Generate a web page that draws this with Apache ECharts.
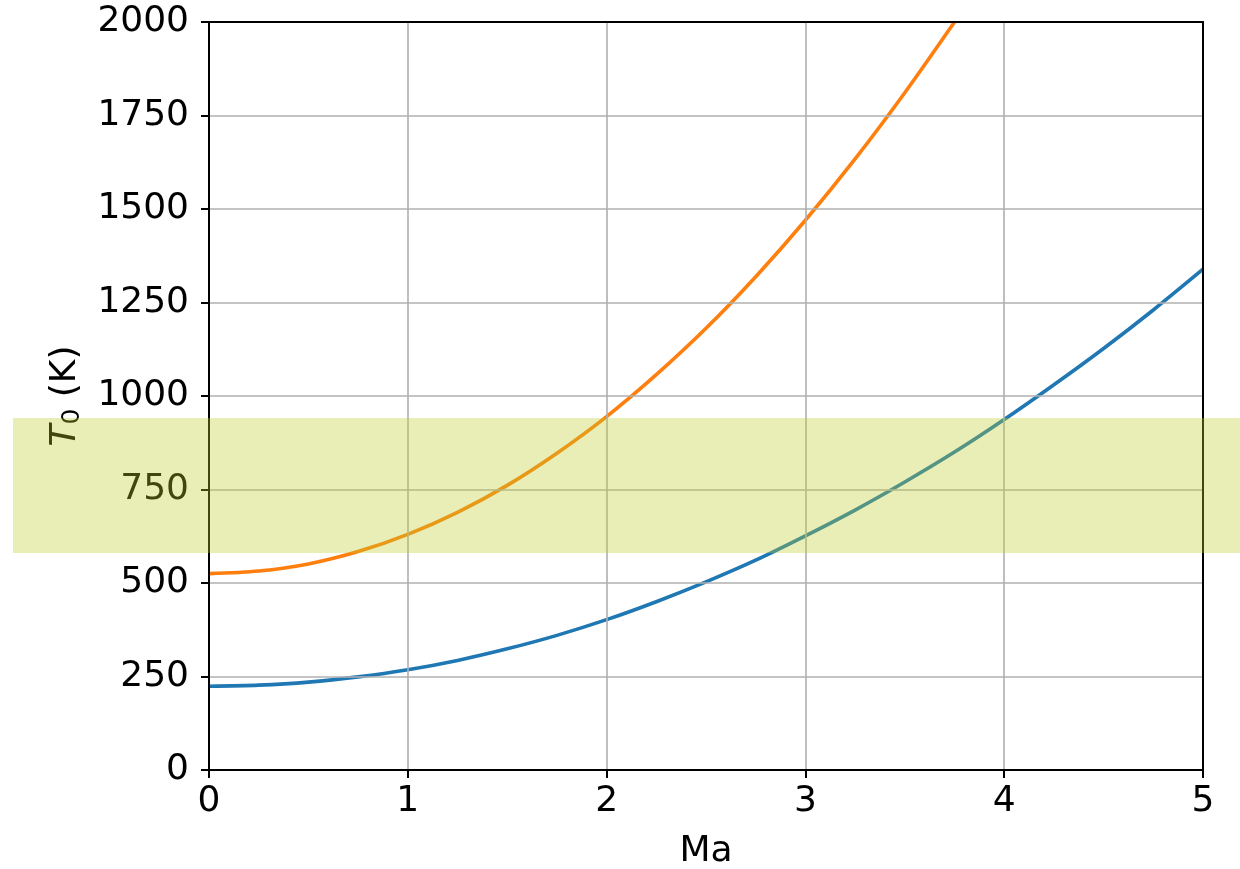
<!DOCTYPE html>
<html>
<head>
<meta charset="utf-8">
<script src="https://cdn.jsdelivr.net/npm/echarts@6/dist/echarts.min.js"></script>
<style>
html,body{margin:0;padding:0;background:#fff;overflow:hidden;}
#c{width:1240px;height:869px;}
</style>
</head>
<body>
<div id="c"></div>
<script>
// Data
const machValues = [0, 0.25, 0.5, 0.75, 1, 1.25, 1.5, 1.75, 2, 2.25, 2.5, 2.75, 3, 3.25, 3.5, 3.75, 4, 4.25, 4.5, 4.75, 5];
const blueT0 = [224, 227, 235, 249, 268, 293, 324, 360, 402, 450, 503, 561, 626, 695, 770, 850, 937, 1030, 1127, 1230, 1339];
const orangeMach = [0, 0.25, 0.5, 0.75, 1, 1.25, 1.5, 1.75, 2, 2.25, 2.5, 2.75, 3, 3.25, 3.5, 3.75];
const orangeT0 = [525, 532, 551, 584, 630, 689, 761, 847, 945, 1057, 1181, 1319, 1470, 1634, 1811, 2000];
const bandRange = [580, 941];
const xTicks = [0, 1, 2, 3, 4, 5];
const yTicks = [0, 250, 500, 750, 1000, 1250, 1500, 1750, 2000];

const font = 'DejaVu Sans';
const fs = 36;
const chart = echarts.init(document.getElementById('c'), null, {renderer: 'canvas', width: 1240, height: 869});

const spine = {show: true, onZero: false, lineStyle: {color: '#000', width: 2}};
const xMin = xTicks[0], xMax = xTicks[xTicks.length - 1];
const yMin = yTicks[0], yMax = yTicks[yTicks.length - 1];

const option = {
  animation: false,
  backgroundColor: '#ffffff',
  grid: {left: 209, right: 37, top: 22, bottom: 99, show: false, containLabel: false, outerBoundsMode: 'none'},
  xAxis: [{
    type: 'value', min: xMin, max: xMax, interval: 1,
    name: 'Ma', nameLocation: 'middle', nameGap: 64,
    nameTextStyle: {fontFamily: font, fontSize: fs, color: '#000'},
    axisLine: spine,
    axisTick: {show: true, length: 8, lineStyle: {color: '#000', width: 2}},
    axisLabel: {fontFamily: font, fontSize: fs, color: '#000', margin: 14, formatter: v => String(v)},
    splitLine: {show: true, lineStyle: {color: '#b0b0b0', width: 1.6}},
    z: 5
  }, {
    type: 'value', position: 'top', min: xMin, max: xMax, interval: 1,
    axisLine: spine, axisTick: {show: false}, axisLabel: {show: false}, splitLine: {show: false}, z: 5
  }],
  yAxis: [{
    type: 'value', min: yMin, max: yMax, interval: 250,
    name: '{i|T}{s|0} (K)', nameLocation: 'middle', nameGap: 124,
    nameTextStyle: {
      fontFamily: font, fontSize: fs, color: '#000',
      rich: {
        i: {fontFamily: font, fontSize: fs, fontStyle: 'italic', color: '#000'},
        s: {fontFamily: font, fontSize: 25, color: '#000', verticalAlign: 'bottom', padding: [14, 0, 0, 0]}
      }
    },
    axisLine: spine,
    axisTick: {show: true, length: 8, lineStyle: {color: '#000', width: 2}},
    axisLabel: {fontFamily: font, fontSize: fs, color: '#000', margin: 20, formatter: v => String(v)},
    splitLine: {show: true, lineStyle: {color: '#b0b0b0', width: 1.6}},
    z: 5
  }, {
    type: 'value', position: 'right', min: yMin, max: yMax, interval: 250,
    axisLine: spine, axisTick: {show: false}, axisLabel: {show: false}, splitLine: {show: false}, z: 5
  }],
  series: [
    {
      type: 'line', showSymbol: false, smooth: 0.3, clip: true,
      data: machValues.map((m, i) => [m, blueT0[i]]),
      lineStyle: {color: '#1f77b4', width: 3.6}, z: 3
    },
    {
      type: 'line', showSymbol: false, smooth: 0.3, clip: true,
      data: orangeMach.map((m, i) => [m, orangeT0[i]]),
      lineStyle: {color: '#ff7f0e', width: 3.6}, z: 3
    }
  ]
};
chart.setOption(option);

const yTop = chart.convertToPixel({xAxisIndex: 0, yAxisIndex: 0}, [0, bandRange[1]])[1];
const yBot = chart.convertToPixel({xAxisIndex: 0, yAxisIndex: 0}, [0, bandRange[0]])[1];
chart.setOption({
  graphic: [{
    type: 'rect', z: 100, silent: true,
    shape: {x: 13, y: yTop, width: 1240 - 13, height: yBot - yTop},
    style: {fill: 'rgba(188,204,40,0.34)'}
  }]
});
</script>
</body>
</html>
